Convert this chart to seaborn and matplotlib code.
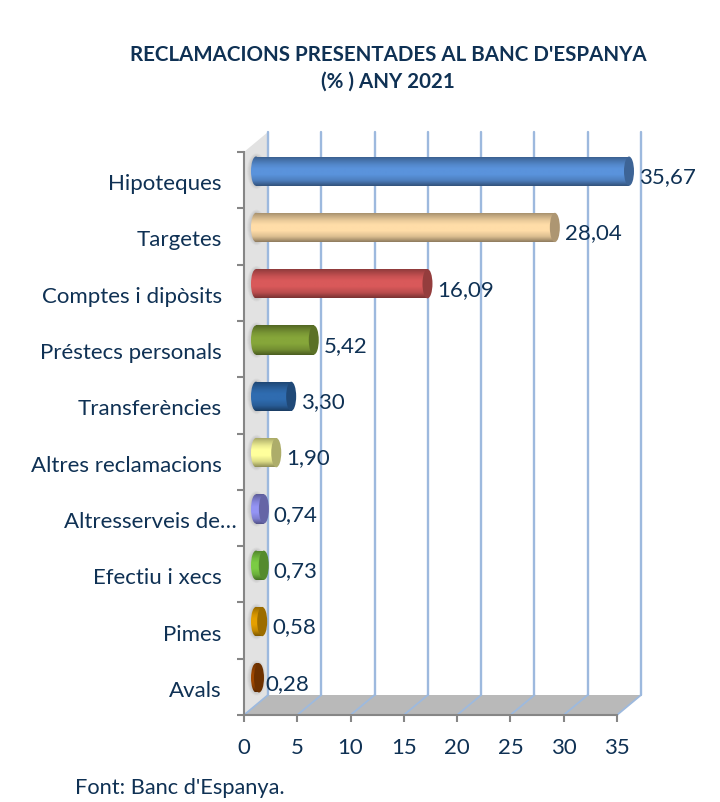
import numpy as np
import pandas as pd
import seaborn as sns
import matplotlib.pyplot as plt
from matplotlib.colors import to_rgb
from matplotlib.patches import Ellipse, Polygon, Rectangle
from matplotlib.transforms import ScaledTranslation

categories = ["Hipoteques", "Targetes", "Comptes i dipòsits", "Préstecs personals", "Transferències",
              "Altres reclamacions", "Altresserveis de…", "Efectiu i xecs", "Pimes", "Avals"]
values = [35.67, 28.04, 16.09, 5.42, 3.30, 1.90, 0.74, 0.73, 0.58, 0.28]
colors = ["#5A93DC", "#FFDDA8", "#D9595A", "#86A63A", "#2F6CB0",
          "#FFFF9C", "#9494F4", "#7CCC44", "#E5A000", "#A04800"]
x_ticks = [0, 5, 10, 15, 20, 25, 30, 35]

title = "RECLAMACIONS PRESENTADES AL BANC D'ESPANYA\n(% ) ANY 2021"
source = "Font: Banc d'Espanya."

text_color = "#0F3154"
grid_color = "#9DB9DE"
axis_color = "#868686"

sns.set_theme(style="white")
plt.rcParams["font.family"] = ["Lato", "DejaVu Sans"]

W, H = 720, 803
L, R, T, B = 244, 617, 153, 716   # front plot box in pixels
depth_x, depth_y = 24, 20         # 3d depth in pixels
fig = plt.figure(figsize=(W / 100, H / 100), dpi=100, facecolor="white")
ax = fig.add_axes([L / W, 1 - B / H, (R - L) / W, (B - T) / H])
ax.set_xlim(0, 35)
ax.set_ylim(9.5, -0.5)

ux = 35 / (R - L)
uy = 10 / (B - T)
dx, dy = depth_x * ux, depth_y * uy

# wall, floor and gridlines
ax.add_patch(Polygon([(0, 9.5), (0, -0.5), (dx, -0.5 - dy), (dx, 9.5 - dy)], closed=True,
                     fc="#E2E2E2", ec="none", clip_on=False, zorder=1))
ax.add_patch(Polygon([(0, 9.5), (dx, 9.5 - dy), (35 + dx, 9.5 - dy), (35, 9.5)], closed=True,
                     fc="#B9B9B9", ec="none", clip_on=False, zorder=1))
for t in x_ticks:
    ax.plot([t + dx, t + dx], [-0.5 - dy, 9.5 - dy], color=grid_color, lw=1.7, clip_on=False, zorder=2)
    ax.plot([t, t + dx], [9.5, 9.5 - dy], color=grid_color, lw=1.3, clip_on=False, zorder=2)

# axes lines and ticks
for side in ["top", "right"]:
    ax.spines[side].set_visible(False)
for side in ["left", "bottom"]:
    ax.spines[side].set_color(axis_color)
    ax.spines[side].set_linewidth(1.5)
    ax.spines[side].set_zorder(3)
ax.patch.set_alpha(0)
ax.set_xticks(x_ticks)
ax.set_yticks(range(len(categories)))
ax.set_yticklabels(categories)
ax.set_yticks(np.arange(-0.5, 10), minor=True)
ax.tick_params(axis="x", length=5, width=1.5, color=axis_color, labelsize=16, labelcolor=text_color, pad=11,
               bottom=True)
ax.tick_params(axis="y", which="major", length=0, labelsize=16, labelcolor=text_color, pad=16)
ax.tick_params(axis="y", which="minor", length=5, width=1.5, color=axis_color, left=True)
ax.yaxis.get_major_ticks()[6].set_pad(5)
label_shift = ScaledTranslation(0, -1 / 100, fig.dpi_scale_trans)
for lab in ax.get_yticklabels():
    lab.set_transform(lab.get_transform() + label_shift)
ax.grid(False)

# bars live on an overlay shifted to the middle of the depth
bar_ax = fig.add_axes([(L + depth_x / 2) / W, 1 - (B - 9) / H, (R - L) / W, (B - T) / H])
bar_ax.patch.set_alpha(0)
data = pd.DataFrame({"categoria": categories, "valor": values})
sns.barplot(data, y="categoria", x="valor", hue="categoria", palette=colors, legend=False,
            width=0.52, orient="h", ax=bar_ax)
bar_ax.set_xlim(0, 35)
bar_ax.set_ylim(9.5, -0.5)
bar_ax.set_autoscale_on(False)
bar_ax.axis("off")

stops = [0, 0.1, 0.28, 0.42, 0.62, 0.82, 0.93, 1]
shade = [0.62, 0.74, 0.92, 1.0, 1.0, 0.86, 0.68, 0.56]
profile = np.interp(np.linspace(0, 1, 64), stops, shade)
cap_w = 10 * ux

for bar, col, v in zip(bar_ax.patches, colors, values):
    y0, h = bar.get_y(), bar.get_height()
    end = min(bar.get_width(), 35)
    bar.set_visible(False)
    yc = y0 + h / 2
    base = np.array(to_rgb(col))
    grad = (base[None, None, :] * profile[:, None, None]).clip(0, 1)

    # soft shadow on the wall
    for k in range(5):
        bar_ax.add_patch(Ellipse((0.05, yc), cap_w * (1.9 - 0.16 * k), h * (1.22 - 0.05 * k), fc="#555555",
                                 ec="none", alpha=0.04, clip_on=False, zorder=3))

    rect = Rectangle((0, y0), end, h, transform=bar_ax.transData)
    im = bar_ax.imshow(grad, extent=(0, end, y0 + h, y0), aspect="auto", interpolation="bilinear", zorder=4)
    im.set_clip_path(rect)
    left = Ellipse((0, yc), cap_w, h, transform=bar_ax.transData)
    im2 = bar_ax.imshow(grad, extent=(-cap_w, cap_w, y0 + h, y0), aspect="auto", interpolation="bilinear",
                        zorder=4)
    im2.set_clip_path(left)
    im2.set_clip_box(fig.bbox)
    bar_ax.add_patch(Ellipse((end, yc), cap_w, h, fc=base * 0.68, ec="none", clip_on=False, zorder=5))

    off = 4.5 if v < 0.3 else 7
    bar_ax.annotate(f"{v:.2f}".replace(".", ","), xy=(end, yc), xytext=(off, -3.5), textcoords="offset points",
                    ha="left", va="center", fontsize=16, color=text_color, annotation_clip=False, zorder=6)

fig.text(388 / W, 1 - 68.5 / H, title, ha="center", va="center", fontsize=14.8, fontweight="bold",
         color=text_color, linespacing=1.45)
fig.text(75 / W, 1 - 788 / H, source, ha="left", va="center", fontsize=15.7, color=text_color)

fig.savefig("out.png", dpi=100)
